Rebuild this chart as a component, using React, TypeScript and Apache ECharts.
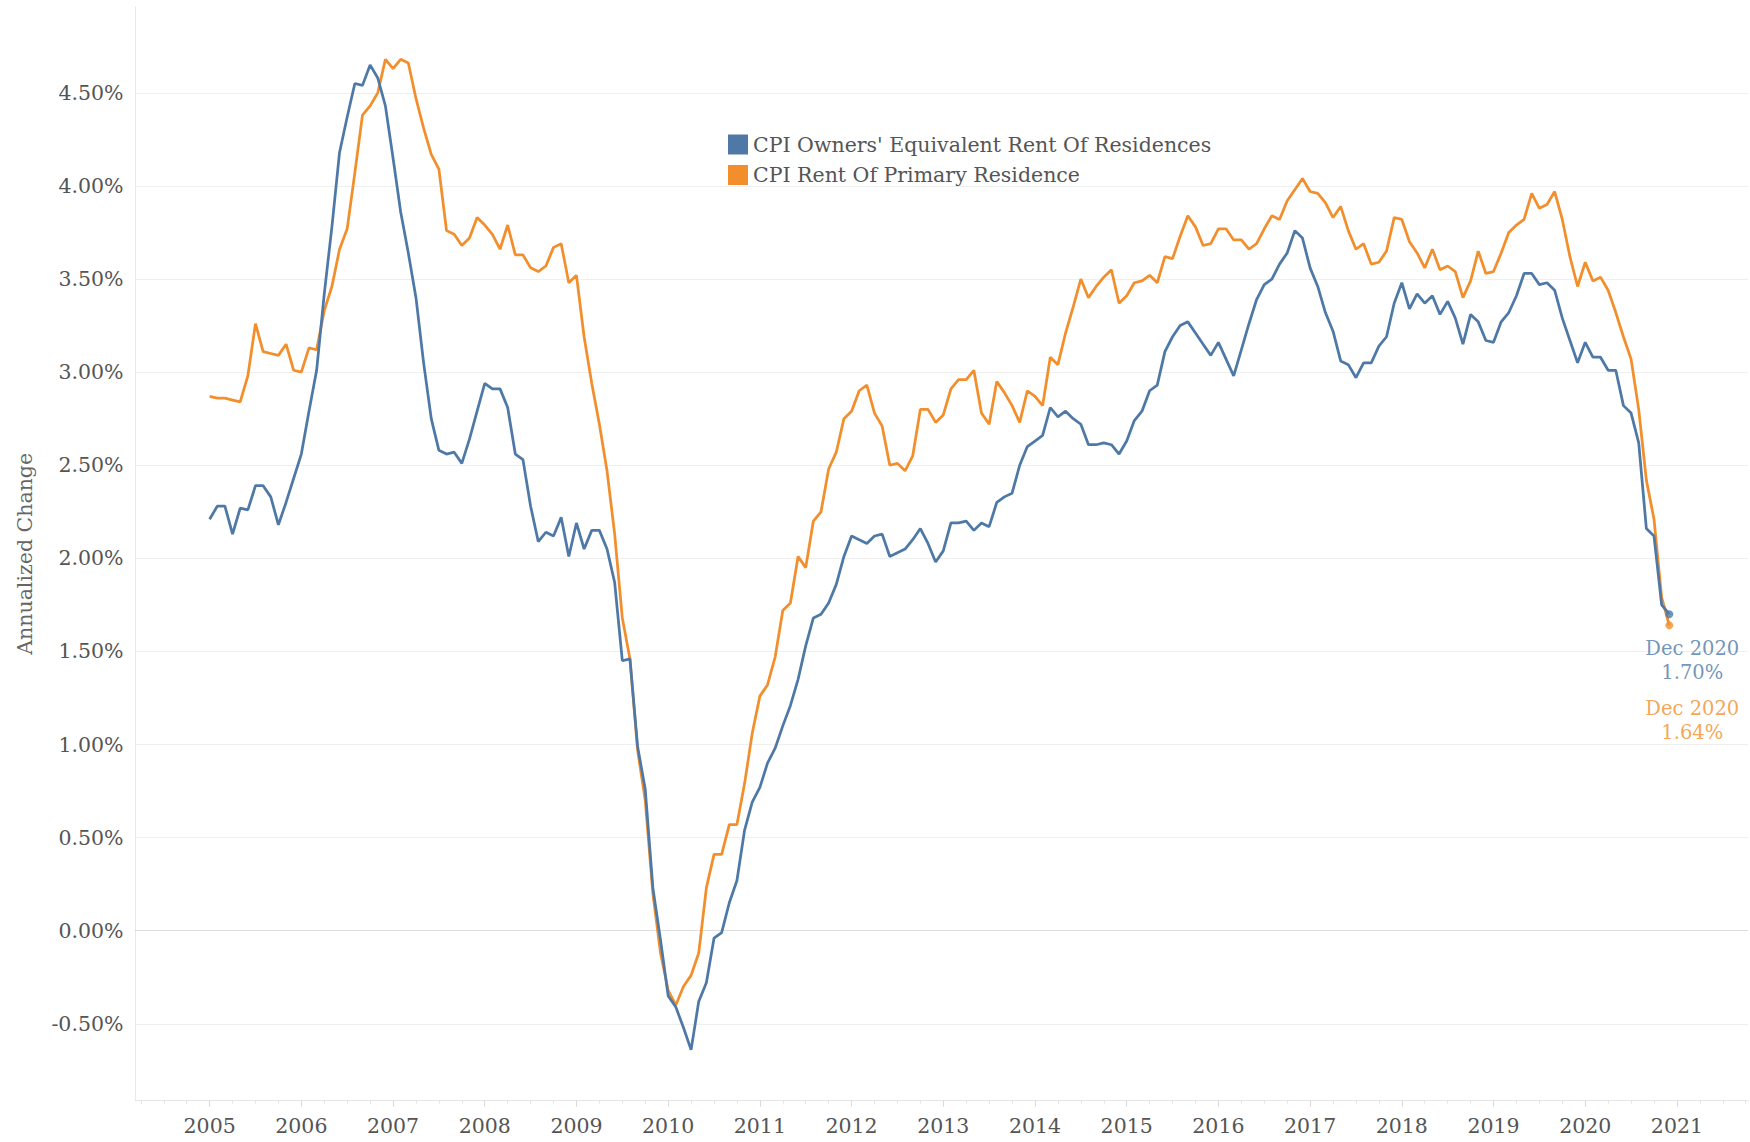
import React, { useEffect, useRef } from "react";
import * as echarts from "echarts";

// Monthly data, Jan 2005 (index 0) to Dec 2020 (index 191)
const startYear = 2005;
const yearLabels = [2005, 2006, 2007, 2008, 2009, 2010, 2011, 2012, 2013, 2014, 2015, 2016, 2017, 2018, 2019, 2020, 2021];
const yTickValues = [-0.5, 0, 0.5, 1, 1.5, 2, 2.5, 3, 3.5, 4, 4.5];
const seriesNames = ["CPI Owners' Equivalent Rent Of Residences", "CPI Rent Of Primary Residence"];
const lastLabel = "Dec 2020";

const ownersEquivalentRent = [
  2.21, 2.28, 2.28, 2.13, 2.27, 2.26, 2.39, 2.39, 2.33, 2.18, 2.30, 2.43,
  2.56, 2.79, 3.01, 3.42, 3.78, 4.18, 4.37, 4.55, 4.54, 4.65, 4.58, 4.43,
  4.15, 3.86, 3.64, 3.40, 3.05, 2.75, 2.58, 2.56, 2.57, 2.51, 2.64, 2.79,
  2.94, 2.91, 2.91, 2.81, 2.56, 2.53, 2.28, 2.09, 2.14, 2.12, 2.22, 2.01,
  2.19, 2.05, 2.15, 2.15, 2.05, 1.87, 1.45, 1.46, 0.99, 0.76, 0.23, -0.05,
  -0.35, -0.41, -0.52, -0.64, -0.38, -0.28, -0.04, -0.01, 0.15, 0.27, 0.54, 0.69,
  0.77, 0.90, 0.98, 1.10, 1.21, 1.35, 1.53, 1.68, 1.70, 1.76, 1.86, 2.01,
  2.12, 2.10, 2.08, 2.12, 2.13, 2.01, 2.03, 2.05, 2.10, 2.16, 2.08, 1.98,
  2.04, 2.19, 2.19, 2.20, 2.15, 2.19, 2.17, 2.30, 2.33, 2.35, 2.50, 2.60,
  2.63, 2.66, 2.81, 2.76, 2.79, 2.75, 2.72, 2.61, 2.61, 2.62, 2.61, 2.56,
  2.63, 2.74, 2.79, 2.90, 2.93, 3.11, 3.19, 3.25, 3.27, 3.21, 3.15, 3.09,
  3.16, 3.07, 2.98, 3.12, 3.26, 3.39, 3.47, 3.50, 3.58, 3.64, 3.76, 3.72,
  3.56, 3.46, 3.32, 3.22, 3.06, 3.04, 2.97, 3.05, 3.05, 3.14, 3.19, 3.37,
  3.48, 3.34, 3.42, 3.37, 3.41, 3.31, 3.38, 3.29, 3.15, 3.31, 3.27, 3.17,
  3.16, 3.27, 3.32, 3.41, 3.53, 3.53, 3.47, 3.48, 3.44, 3.29, 3.17, 3.05,
  3.16, 3.08, 3.08, 3.01, 3.01, 2.82, 2.78, 2.62, 2.16, 2.12, 1.75, 1.70,
];

const rentPrimaryResidence = [
  2.87, 2.86, 2.86, 2.85, 2.84, 2.98, 3.26, 3.11, 3.10, 3.09, 3.15, 3.01,
  3.00, 3.13, 3.12, 3.33, 3.46, 3.66, 3.77, 4.07, 4.38, 4.43, 4.50, 4.68,
  4.63, 4.68, 4.66, 4.47, 4.31, 4.17, 4.09, 3.76, 3.74, 3.68, 3.72, 3.83,
  3.79, 3.74, 3.66, 3.79, 3.63, 3.63, 3.56, 3.54, 3.57, 3.67, 3.69, 3.48,
  3.52, 3.19, 2.94, 2.72, 2.47, 2.13, 1.68, 1.46, 0.97, 0.70, 0.20, -0.12,
  -0.32, -0.40, -0.30, -0.24, -0.12, 0.23, 0.41, 0.41, 0.57, 0.57, 0.79, 1.06,
  1.26, 1.32, 1.47, 1.72, 1.76, 2.01, 1.95, 2.20, 2.25, 2.48, 2.57, 2.75,
  2.79, 2.90, 2.93, 2.78, 2.71, 2.50, 2.51, 2.47, 2.55, 2.80, 2.80, 2.73,
  2.77, 2.91, 2.96, 2.96, 3.01, 2.78, 2.72, 2.95, 2.89, 2.82, 2.73, 2.90,
  2.87, 2.82, 3.08, 3.04, 3.21, 3.35, 3.50, 3.40, 3.46, 3.51, 3.55, 3.37,
  3.41, 3.48, 3.49, 3.52, 3.48, 3.62, 3.61, 3.73, 3.84, 3.78, 3.68, 3.69,
  3.77, 3.77, 3.71, 3.71, 3.66, 3.69, 3.77, 3.84, 3.82, 3.92, 3.98, 4.04,
  3.97, 3.96, 3.91, 3.83, 3.89, 3.76, 3.66, 3.69, 3.58, 3.59, 3.65, 3.83,
  3.82, 3.70, 3.64, 3.56, 3.66, 3.55, 3.57, 3.54, 3.40, 3.49, 3.65, 3.53,
  3.54, 3.64, 3.75, 3.79, 3.82, 3.96, 3.88, 3.90, 3.97, 3.82, 3.62, 3.46,
  3.59, 3.49, 3.51, 3.44, 3.32, 3.19, 3.07, 2.80, 2.42, 2.21, 1.79, 1.64,
];

const BLUE = "#4e79a7";
const ORANGE = "#f28e2b";
const FONT = "'DejaVu Serif', Georgia, serif";
const TEXT = "#555555";

export default function App() {
  const ref = useRef<HTMLDivElement>(null);

  useEffect(() => {
    if (!ref.current) return;
    const chart = echarts.init(ref.current, undefined, { renderer: "svg" });

    const yearIdx = yearLabels.map((y) => (y - startYear) * 12);
    const quarterIdx: number[] = [];
    for (let m = -9; m <= 201; m += 3) if (m % 12 !== 0) quarterIdx.push(m);

    const toPoints = (arr: number[]) => arr.map((v, i) => [i, v]);
    const last = ownersEquivalentRent.length - 1;

    const endLabel = (color: string, distance: number) => ({
      show: true,
      position: "bottom",
      distance,
      offset: [23, 0],
      align: "center",
      color,
      fontFamily: FONT,
      fontSize: 19.5,
      lineHeight: 24,
      formatter: (p: any) => `${lastLabel}\n${p.value[1].toFixed(2)}%`,
    });

    chart.setOption({
      animation: false,
      backgroundColor: "#ffffff",
      grid: { left: 135.5, right: 2, top: 7, bottom: 41.3, containLabel: false },
      legend: {
        orient: "vertical",
        left: 723,
        top: 129,
        itemWidth: 20,
        itemHeight: 20,
        itemGap: 9.5,
        icon: "rect",
        selectedMode: false,
        data: seriesNames,
        textStyle: { fontFamily: FONT, fontSize: 20.5, lineHeight: 20, color: TEXT },
      },
      xAxis: [
        {
          type: "value",
          min: -9.7,
          max: 201.3,
          axisLine: { show: true, onZero: false, lineStyle: { color: "#e4e4e4", width: 1 } },
          axisTick: { show: true, customValues: yearIdx, length: 6, lineStyle: { color: "#d9d9d9" } },
          axisLabel: {
            customValues: yearIdx,
            formatter: (v: number) => String(startYear + Math.round(v / 12)),
            margin: 15,
            fontFamily: FONT,
            fontSize: 20.5,
            color: TEXT,
          },
          splitLine: { show: false },
        },
        {
          type: "value",
          min: -9.7,
          max: 201.3,
          position: "bottom",
          axisLine: { show: false, onZero: false },
          axisTick: { show: true, customValues: quarterIdx, length: 3, lineStyle: { color: "#e4e4e4" } },
          axisLabel: { show: false },
          splitLine: { show: false },
        },
      ],
      yAxis: {
        type: "value",
        min: -0.913,
        max: 4.961,
        name: "Annualized Change",
        nameLocation: "middle",
        nameRotate: 90,
        nameGap: 100,
        nameTextStyle: { fontFamily: FONT, fontSize: 20.5, color: "#666666" },
        axisLine: { show: true, onZero: false, lineStyle: { color: "#e8e8e8", width: 1 } },
        axisTick: { show: false, customValues: yTickValues },
        axisLabel: {
          customValues: yTickValues,
          formatter: (v: number) => `${v.toFixed(2)}%`,
          margin: 12,
          fontFamily: FONT,
          fontSize: 20.5,
          color: TEXT,
        },
        splitLine: {
          show: true,
          lineStyle: {
            color: yTickValues.map((v) => (v === 0 ? "rgba(0,0,0,0)" : "#efefef")),
            width: 1,
          },
        },
      },
      series: [
        {
          name: seriesNames[1],
          type: "line",
          data: toPoints(rentPrimaryResidence),
          showSymbol: false,
          color: ORANGE,
          lineStyle: { color: ORANGE, width: 2.75 },
          emphasis: { disabled: true },
          z: 2,
        },
        {
          name: seriesNames[0],
          type: "line",
          data: toPoints(ownersEquivalentRent),
          showSymbol: false,
          color: BLUE,
          lineStyle: { color: BLUE, width: 2.75 },
          emphasis: { disabled: true },
          z: 3,
          markLine: {
            silent: true,
            symbol: ["none", "none"],
            label: { show: false },
            lineStyle: { type: "dotted", color: "#bdbdbd", width: 1 },
            data: [{ yAxis: 0 }],
            z: 1,
          },
        },
        {
          name: "rentEnd",
          type: "scatter",
          data: [[last, rentPrimaryResidence[last]]],
          symbol: "circle",
          symbolSize: 8,
          itemStyle: { color: ORANGE },
          label: endLabel(ORANGE, 67),
          z: 4,
        },
        {
          name: "oerEnd",
          type: "scatter",
          data: [[last, ownersEquivalentRent[last]]],
          symbol: "circle",
          symbolSize: 8,
          itemStyle: { color: BLUE },
          label: endLabel(BLUE, 18),
          z: 5,
        },
      ],
    });

    return () => chart.dispose();
  }, []);

  return (
    <div
      ref={ref}
      style={{ position: "fixed", left: 0, top: 0, width: 1750, height: 1142, background: "#fff" }}
    />
  );
}
